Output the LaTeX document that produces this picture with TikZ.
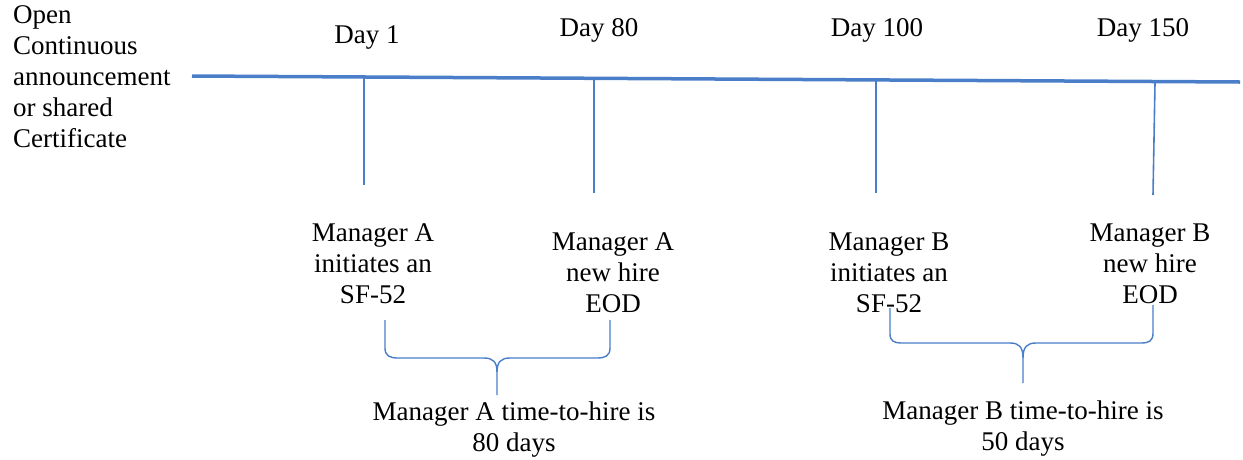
\documentclass[tikz,border=0pt]{standalone}
\usepackage{fontspec}
\setmainfont{Liberation Serif}
\definecolor{tl}{RGB}{74,126,200}
\begin{document}
\begin{tikzpicture}[x=1pt,y=-1pt,
  lbl/.style={inner sep=0pt,font=\fontsize{27}{31}\selectfont,align=center,anchor=center},
  lft/.style={inner sep=0pt,font=\fontsize{27}{31}\selectfont,align=left,anchor=north west},
  axis/.style={draw=tl,line width=3.5pt},
  tick/.style={draw=tl,line width=1.6pt},
  brace/.style={draw=tl,line width=1.4pt,line join=round}]
\useasboundingbox (0,0) rectangle (1243,459);
% main timeline
\coordinate (L) at (192,76);
\coordinate (R) at (1240,82);
\draw[axis] (L) -- (R);
% left text
\node[lft] (open) at (13,5) {Open\\Continuous\\announcement\\or shared\\Certificate};
% day labels
\node[lbl] (d1) at (367,37) {Day 1};
\node[lbl] (d80) at (599,30) {Day 80};
\node[lbl] (d100) at (877,30) {Day 100};
\node[lbl] (d150) at (1143,30) {Day 150};
% ticks
\coordinate (t1a) at (364,77); \coordinate (t1b) at (364,185);
\coordinate (t2a) at (594,78); \coordinate (t2b) at (594,193);
\coordinate (t3a) at (876,80); \coordinate (t3b) at (876,193);
\coordinate (t4a) at (1155,83); \coordinate (t4b) at (1153,195);
\draw[tick] (t1a) -- (t1b);
\draw[tick] (t2a) -- (t2b);
\draw[tick] (t3a) -- (t3b);
\draw[tick] (t4a) -- (t4b);
% event labels
\node[lbl] (ai) at (373,264) {Manager A\\initiates an\\SF-52};
\node[lbl] (ae) at (613,273) {Manager A\\new hire\\EOD};
\node[lbl] (bi) at (889,273) {Manager B\\initiates an\\SF-52};
\node[lbl] (be) at (1150,264) {Manager B\\new hire\\EOD};
% braces
\coordinate (aL) at (385,320); \coordinate (aR) at (610,320); \coordinate (aM) at (497,395);
\draw[brace] (aL) -- (385,348) .. controls (385,356) and (390,358) .. (398,358) -- (484,358)
  .. controls (493,358) and (497,362) .. (497,372) -- (aM);
\draw[brace] (aR) -- (610,348) .. controls (610,356) and (605,358) .. (597,358) -- (510,358)
  .. controls (501,358) and (497,362) .. (497,372);
\coordinate (bL) at (890,308); \coordinate (bR) at (1153,305); \coordinate (bM) at (1023,383);
\draw[brace] (bL) -- (890,334) .. controls (890,341) and (894,343) .. (902,343) -- (1010,343)
  .. controls (1019,343) and (1023,347) .. (1023,358) -- (bM);
\draw[brace] (bR) -- (1153,333) .. controls (1153,341) and (1149,343) .. (1141,343) -- (1036,343)
  .. controls (1027,343) and (1023,347) .. (1023,358);
% totals
\node[lbl] (at) at (514,430) {Manager A time-to-hire is\\80 days};
\node[lbl] (bt) at (1023,429) {Manager B time-to-hire is\\50 days};
\end{tikzpicture}
\end{document}
